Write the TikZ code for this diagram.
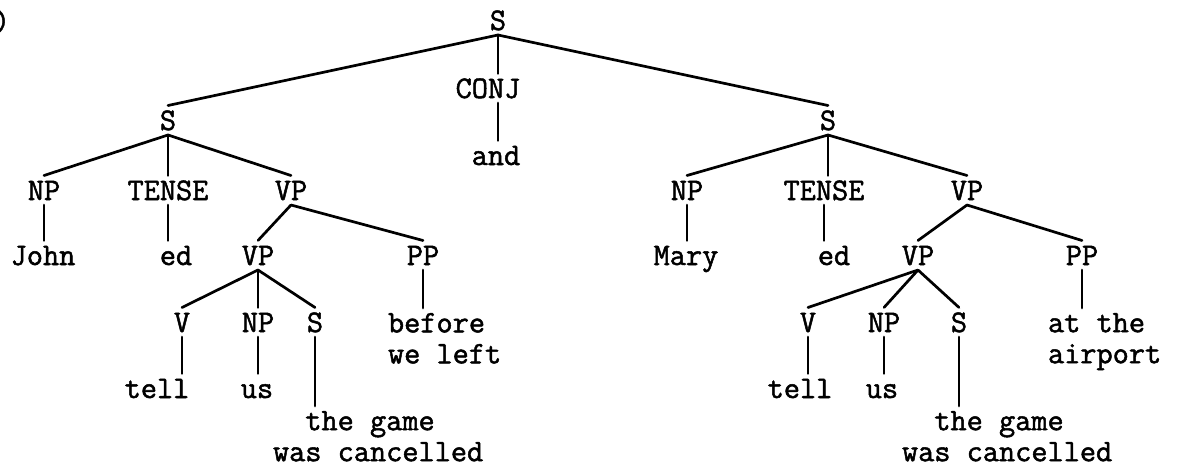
\documentclass[tikz,border=0pt]{standalone}
\usepackage{fontspec}
\newfontfamily\treett{Latin Modern Mono}[FakeBold=1.6]
\newcommand{\treefont}{\treett\fontsize{31.4pt}{31pt}\selectfont}
\tikzset{
  lbl/.style={font=\treefont, inner xsep=0pt, inner ysep=5pt, outer sep=0pt, anchor=base, text height=19.5pt, text depth=0pt},
  multi/.style={font=\treefont, inner xsep=0pt, inner ysep=5pt, outer sep=0pt, anchor=north west, align=left},
  branch/.style={line width=2.7pt, line cap=round},
}
\begin{document}
\begin{tikzpicture}[x=1pt,y=-1pt]
\useasboundingbox (0,0) rectangle (1177,466);
% top
\node[lbl] (paren) at (2,31) {)};
\node[lbl] (root) at (498,30) {S};
\node[lbl] (conj) at (488,98) {CONJ};
\node[lbl] (and) at (496,165) {and};
\node[lbl] (lS) at (168,130) {S};
\node[lbl] (rS) at (828,130) {S};
% left clause
\node[lbl] (lNP) at (44,200) {NP};
\node[lbl] (lT) at (168,200) {TENSE};
\node[lbl] (lVP) at (291,200) {VP};
\node[lbl] (john) at (43,265) {John};
\node[lbl] (led) at (176,265) {ed};
\node[lbl] (lVPb) at (258,265) {VP};
\node[lbl] (lPP) at (423,265) {PP};
\node[lbl] (lV) at (182,332) {V};
\node[lbl] (lNPb) at (258,332) {NP};
\node[lbl] (lSb) at (315,332) {S};
\node[multi] (before) at (388,308) {before\\we left};
\node[lbl] (ltell) at (157,398) {tell};
\node[lbl] (lus) at (257,398) {us};
\node[multi] (lgame) at (273,406) {\phantom{wa}the game\\was cancelled};
% right clause
\node[lbl] (rNP) at (687,200) {NP};
\node[lbl] (rT) at (824,200) {TENSE};
\node[lbl] (rVP) at (967,200) {VP};
\node[lbl] (mary) at (686,265) {Mary};
\node[lbl] (red) at (834,265) {ed};
\node[lbl] (rVPb) at (918,265) {VP};
\node[lbl] (rPP) at (1082,265) {PP};
\node[lbl] (rV) at (808,332) {V};
\node[lbl] (rNPb) at (884,332) {NP};
\node[lbl] (rSb) at (959,332) {S};
\node[multi] (atthe) at (1048,308) {at the\\airport};
\node[lbl] (rtell) at (800,398) {tell};
\node[lbl] (rus) at (882,398) {us};
\node[multi] (rgame) at (902,406) {\phantom{wa}the game\\was cancelled};
% branches: top
\draw[branch] (root.south) -- (lS.north);
\draw[branch] (root.south) -- (root.south |- conj.north);
\draw[branch] (root.south) -- (rS.north);
\draw[branch] (root.south |- conj.south) -- (root.south |- and.north);
% branches: left
\draw[branch] (lS.south) -- (lNP.north);
\draw[branch] (lS.south) -- (lT.north);
\draw[branch] (lS.south) -- (lVP.north);
\draw[branch] (lNP.south) -- (lNP.south |- john.north);
\draw[branch] (lT.south) -- (lT.south |- led.north);
\draw[branch] (lVP.south) -- (lVPb.north);
\draw[branch] (lVP.south) -- (lPP.north);
\draw[branch] (lVPb.south) -- (lV.north);
\draw[branch] (lVPb.south) -- (lNPb.north);
\draw[branch] (lVPb.south) -- (lSb.north);
\draw[branch] (lV.south) -- (lV.south |- ltell.north);
\draw[branch] (lNPb.south) -- (lNPb.south |- lus.north);
\draw[branch] (lSb.south) -- (lSb.south |- lgame.north);
\draw[branch] (lPP.south) -- (lPP.south |- before.north);
% branches: right
\draw[branch] (rS.south) -- (rNP.north);
\draw[branch] (rS.south) -- (rS.south |- rT.north);
\draw[branch] (rS.south) -- (rVP.north);
\draw[branch] (rNP.south) -- (rNP.south |- mary.north);
\draw[branch] (rT.south) -- (rT.south |- red.north);
\draw[branch] (rVP.south) -- (rVPb.north);
\draw[branch] (rVP.south) -- (rPP.north);
\draw[branch] (rVPb.south) -- (rV.north);
\draw[branch] (rVPb.south) -- (rNPb.north);
\draw[branch] (rVPb.south) -- (rSb.north);
\draw[branch] (rV.south) -- (rV.south |- rtell.north);
\draw[branch] (rNPb.south) -- (rNPb.south |- rus.north);
\draw[branch] (rSb.south) -- (rSb.south |- rgame.north);
\draw[branch] (rPP.south) -- (rPP.south |- atthe.north);
\end{tikzpicture}
\end{document}
